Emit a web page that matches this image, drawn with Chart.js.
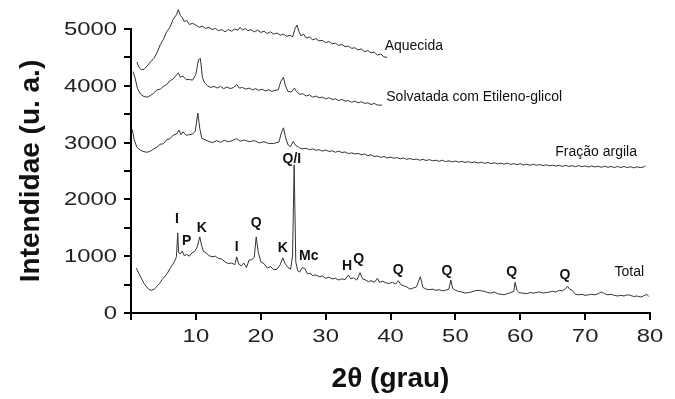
<!DOCTYPE html>
<html>
<head>
<meta charset="utf-8">
<script src="https://cdn.jsdelivr.net/npm/chart.js@4/dist/chart.umd.min.js"></script>
<style>
  html, body { margin: 0; padding: 0; background: #fff; }
  #wrap { width: 675px; height: 399px; position: relative; }
</style>
</head>
<body>
<div id="wrap"><canvas id="c" width="675" height="399"></canvas></div>
<script>
// ---- Data (2θ in degrees, intensity in arbitrary units) ----
const totalX = [0.8,1.2,1.6,2.0,2.4,2.8,3.2,3.6,4.0,4.4,4.8,5.2,5.6,6.0,6.4,6.8,7.0,7.2,7.35,7.6,7.9,8.2,8.6,9.0,9.4,9.8,10.2,10.6,10.9,11.2,11.6,12.0,12.5,13.0,13.5,14.0,14.5,15.0,15.5,16.0,16.3,16.6,17.0,17.4,17.8,18.2,18.6,19.0,19.3,19.6,20.0,20.5,21.0,21.5,22.0,22.5,23.0,23.4,23.8,24.2,24.6,24.9,25.15,25.4,25.7,26.0,26.4,26.8,27.2,27.6,28.0,28.5,29.0,29.5,30.0,30.5,31.0,31.5,32.0,32.5,33.0,33.5,33.9,34.3,34.8,35.3,35.7,36.2,36.6,37.0,37.5,38.0,38.3,38.8,39.3,39.8,40.3,40.8,41.2,41.6,42.0,42.5,43.0,43.5,44.0,44.6,45.0,45.5,46.0,46.5,47.0,47.5,48.0,48.5,49.0,49.3,49.6,50.0,50.5,51.0,51.5,52.0,52.5,53.0,53.5,54.0,54.5,55.0,55.5,56.0,56.5,57.0,57.5,58.0,58.5,59.0,59.2,59.5,59.8,60.3,61.0,61.5,62.0,62.5,63.0,63.5,64.0,64.5,65.0,65.5,66.0,66.5,67.0,67.3,67.6,68.0,68.5,69.0,69.5,70.0,70.5,71.0,71.5,72.0,72.5,73.0,73.5,74.0,74.5,75.0,75.5,76.0,76.5,77.0,77.5,78.0,78.5,79.0,79.5,79.8];
const totalY = [790,700,610,520,460,410,400,420,470,520,590,640,700,780,850,930,990,1410,1060,1040,1090,1010,1030,1000,1060,1080,1160,1340,1180,1080,1060,1010,990,1000,960,950,900,870,880,850,990,860,830,880,800,930,940,980,1340,1080,900,870,790,820,760,770,850,970,860,800,770,1000,2610,900,740,720,800,780,690,700,660,670,640,650,610,630,600,610,580,600,590,670,600,620,580,710,600,580,550,570,540,610,540,560,530,520,540,510,570,500,480,460,420,440,460,640,450,420,410,420,400,410,390,400,420,580,430,400,380,370,350,360,370,390,400,390,380,360,350,370,340,330,320,340,360,380,540,400,360,350,340,360,350,360,370,350,360,370,380,370,400,390,430,470,420,400,330,320,330,310,320,330,320,340,370,340,320,330,310,300,310,300,320,310,290,300,280,300,330,290];

// [2θ, intensity] pairs
const fracaoArgila = [[0.2,3230],[0.5,3050],[0.9,2920],[1.4,2870],[2.0,2840],[2.5,2830],[3.0,2850],[3.5,2890],[4.0,2920],[4.5,2970],[5.0,2980],[5.5,3050],[6.0,3070],[6.5,3130],[7.0,3150],[7.4,3220],[7.7,3140],[8.0,3190],[8.5,3130],[9.0,3140],[9.5,3150],[9.9,3200],[10.3,3520],[10.6,3250],[10.9,3080],[11.4,3050],[12.0,3020],[12.6,3000],[13.2,3035],[13.8,3005],[14.4,3040],[15.0,3015],[15.6,3035],[16.3,3070],[16.8,3025],[17.5,3045],[18.2,3015],[19.0,3035],[19.8,2995],[20.5,3015],[21.2,2985],[22.0,2985],[22.8,3010],[23.2,3180],[23.5,3260],[23.8,3100],[24.2,2960],[24.6,2930],[25.0,3020],[25.3,2960],[25.8,2920],[26.0,2905],[26.5,2890],[27.0,2900],[27.5,2875],[28.0,2890],[28.5,2865],[29.0,2875],[29.5,2850],[30.0,2870],[30.5,2845],[31.0,2855],[31.5,2830],[32.0,2850],[32.5,2825],[33.0,2835],[33.5,2805],[34.0,2820],[34.5,2800],[35.0,2810],[35.5,2785],[36.0,2800],[36.5,2770],[37.0,2785],[37.5,2755],[38.0,2765],[38.5,2740],[39.0,2755],[39.5,2730],[40.0,2745],[40.5,2725],[41.0,2735],[41.5,2715],[42.0,2730],[42.5,2705],[43.0,2720],[43.5,2700],[44.0,2710],[44.5,2690],[45.0,2705],[45.5,2685],[46.0,2700],[46.5,2680],[47.0,2690],[47.5,2670],[48.0,2690],[48.5,2665],[49.0,2680],[49.5,2660],[50.0,2675],[50.5,2655],[51.0,2670],[51.5,2650],[52.0,2665],[52.5,2645],[53.0,2660],[53.5,2640],[54.0,2655],[54.5,2635],[55.0,2650],[55.5,2630],[56.0,2645],[56.5,2625],[57.0,2640],[57.5,2620],[58.0,2640],[58.5,2615],[59.0,2630],[59.5,2610],[60.0,2630],[60.5,2605],[61.0,2620],[61.5,2600],[62.0,2620],[62.5,2600],[63.0,2615],[63.5,2595],[64.0,2610],[64.5,2590],[65.0,2605],[65.5,2585],[66.0,2600],[66.5,2580],[67.0,2600],[67.5,2580],[68.0,2595],[68.5,2575],[69.0,2595],[69.5,2575],[70.0,2590],[70.5,2570],[71.0,2590],[71.5,2570],[72.0,2585],[72.5,2565],[73.0,2585],[73.5,2565],[74.0,2580],[74.5,2560],[75.0,2580],[75.5,2560],[76.0,2580],[76.5,2560],[77.0,2575],[77.5,2555],[78.0,2575],[78.5,2560],[79.0,2570],[79.3,2590]];

const solvatada = [[0.3,4250],[0.6,4150],[1.0,3950],[1.5,3850],[2.0,3810],[2.5,3800],[3.0,3830],[3.5,3870],[4.0,3930],[4.5,3940],[5.0,3990],[5.5,4020],[6.0,4090],[6.5,4120],[7.0,4190],[7.3,4230],[7.6,4150],[8.0,4170],[8.5,4110],[9.0,4110],[9.5,4100],[10.0,4200],[10.4,4460],[10.7,4480],[11.0,4150],[11.3,4060],[11.8,4000],[12.3,3970],[12.8,3990],[13.3,3960],[13.8,3990],[14.3,3950],[14.8,3980],[15.3,3950],[15.8,3970],[16.3,4020],[16.7,3960],[17.2,3970],[17.7,3940],[18.2,3960],[18.7,3930],[19.2,3950],[19.7,3920],[20.2,3940],[20.7,3910],[21.2,3930],[21.7,3900],[22.2,3920],[22.7,3930],[23.1,4080],[23.5,4150],[23.8,4000],[24.2,3900],[24.7,3890],[25.2,3960],[25.5,3900],[26.0,3850],[26.5,3860],[27.0,3820],[27.5,3840],[28.0,3800],[28.5,3820],[29.0,3790],[29.5,3800],[30.0,3770],[30.5,3790],[31.0,3760],[31.5,3770],[32.0,3740],[32.5,3760],[33.0,3730],[33.5,3740],[34.0,3710],[34.5,3730],[35.0,3700],[35.5,3720],[36.0,3690],[36.5,3700],[37.0,3670],[37.5,3690],[38.0,3660],[38.7,3660]];

const aquecida = [[0.9,4420],[1.2,4330],[1.6,4280],[2.0,4290],[2.5,4350],[3.0,4420],[3.5,4480],[4.0,4580],[4.5,4720],[5.0,4820],[5.5,4950],[6.0,5030],[6.5,5170],[7.0,5250],[7.3,5340],[7.6,5240],[7.9,5200],[8.2,5130],[8.6,5150],[9.0,5080],[9.5,5100],[10.0,5070],[10.5,5030],[11.0,5050],[11.5,5010],[12.0,5030],[12.5,4990],[13.0,5010],[13.5,4970],[14.0,4990],[14.5,4950],[15.0,4990],[15.5,4960],[16.0,5000],[16.5,4980],[16.8,5030],[17.2,4980],[17.6,5010],[18.0,4970],[18.5,4990],[19.0,4950],[19.5,4980],[20.0,4940],[20.5,4960],[21.0,4920],[21.5,4950],[22.0,4910],[22.5,4930],[23.0,4890],[23.5,4910],[24.0,4870],[24.5,4890],[24.9,4860],[25.3,5010],[25.6,5070],[25.9,4950],[26.2,4880],[26.6,4910],[27.0,4840],[27.5,4860],[28.0,4810],[28.5,4830],[29.0,4790],[29.5,4800],[30.0,4760],[30.5,4780],[31.0,4740],[31.5,4750],[32.0,4710],[32.5,4730],[33.0,4690],[33.5,4700],[34.0,4660],[34.5,4670],[35.0,4630],[35.5,4650],[36.0,4600],[36.5,4620],[37.0,4580],[37.5,4590],[38.0,4540],[38.5,4560],[39.0,4510],[39.5,4500]];

// Annotations (text, 2θ, intensity)
const peakText = ['I','P','K','I','Q','K','Q/I','Mc','H','Q','Q','Q','Q','Q'];
const peakX    = [7.1,8.6,10.9,16.3,19.3,23.4,24.8,27.4,33.3,35.1,41.2,48.7,58.7,66.9];
const peakY    = [1654,1267,1496,1162,1584,1144,2710,1003,827,950,757,745,725,660];
const seriesText = ['Total','Fração argila','Solvatada com Etileno-glicol','Aquecida'];
const seriesLabelX = [76.8,71.7,52.9,43.6];
const seriesLabelY = [722,2834,3802,4700];

const xTicks = [0,10,20,30,40,50,60,70,80];
const yTicks = [0,1000,2000,3000,4000,5000];

const fromXY = (xs, ys) => xs.map((x, i) => ({x: x, y: ys[i]}));
const fromPairs = p => p.map(([x, y]) => ({x, y}));

const FONT = "'Liberation Sans', Arial, sans-serif";
const LINE = '#333';
const TICK_FONT = '18.5px ' + FONT;
const STRETCH = 1.29; // tick numerals in the reference are drawn wide

// Tick labels: positioned from the library's scales, drawn horizontally widened
const tickLabels = {
  id: 'tickLabels',
  afterDraw(chart) {
    const {ctx, scales: {x, y}} = chart;
    ctx.save();
    ctx.fillStyle = '#222';
    ctx.font = TICK_FONT;
    ctx.textBaseline = 'middle';
    y.ticks.forEach(t => {
      if (!yTicks.includes(t.value)) return;
      ctx.save();
      ctx.translate(y.right - 14, y.getPixelForValue(t.value) + 1);
      ctx.scale(STRETCH, 1);
      ctx.textAlign = 'right';
      ctx.fillText(String(t.value), 0, 0);
      ctx.restore();
    });
    x.ticks.forEach(t => {
      if (t.value === 0) return;
      ctx.save();
      ctx.translate(x.getPixelForValue(t.value), x.top + 24);
      ctx.scale(STRETCH, 1);
      ctx.textAlign = 'center';
      ctx.fillText(String(t.value), 0, 0);
      ctx.restore();
    });
    ctx.restore();
  }
};

const annot = {
  id: 'annot',
  afterDatasetsDraw(chart) {
    const {ctx, scales: {x, y}} = chart;
    ctx.save();
    ctx.fillStyle = '#111';
    ctx.textAlign = 'center';
    ctx.textBaseline = 'middle';
    ctx.font = 'bold 14px ' + FONT;
    peakText.forEach((t, i) => ctx.fillText(t, x.getPixelForValue(peakX[i]), y.getPixelForValue(peakY[i])));
    ctx.font = '14px ' + FONT;
    seriesText.forEach((t, i) => ctx.fillText(t, x.getPixelForValue(seriesLabelX[i]), y.getPixelForValue(seriesLabelY[i])));
    ctx.restore();
  }
};

const ds = (label, data) => ({
  label, data, borderColor: LINE, borderWidth: 1,
  pointRadius: 0, tension: 0, clip: false, fill: false
});

new Chart(document.getElementById('c'), {
  type: 'line',
  data: {
    datasets: [
      ds('Total', fromXY(totalX, totalY)),
      ds('Fração argila', fromPairs(fracaoArgila)),
      ds('Solvatada com Etileno-glicol', fromPairs(solvatada)),
      ds('Aquecida', fromPairs(aquecida))
    ]
  },
  options: {
    responsive: false,
    animation: false,
    events: [],
    layout: { padding: { left: 0, top: 29, right: 25, bottom: 0 } },
    plugins: { legend: { display: false }, tooltip: { enabled: false } },
    scales: {
      x: {
        type: 'linear', min: 0, max: 80,
        afterBuildTicks: s => { s.ticks = xTicks.map(v => ({value: v})); },
        afterFit: s => { s.height = 86; },
        grid: { drawOnChartArea: false, drawTicks: true, tickLength: 7, color: '#000', lineWidth: 2 },
        border: { display: true, color: '#000', width: 2 },
        ticks: { display: false, autoSkip: false },
        title: { display: true, text: '2θ (grau)', color: '#111', font: { family: FONT, size: 28, weight: 'bold' }, padding: { top: 0, bottom: 3 } }
      },
      y: {
        min: 0, max: 5000,
        afterBuildTicks: s => { const t = []; for (let v = 0; v <= 5000; v += 500) t.push({value: v}); s.ticks = t; },
        afterFit: s => { s.width = 131; },
        grid: { drawOnChartArea: false, drawTicks: true, tickLength: 7, color: '#000', lineWidth: 2 },
        border: { display: true, color: '#000', width: 2 },
        ticks: { display: false, autoSkip: false },
        title: { display: true, text: 'Intendidae (u. a.)', color: '#111', font: { family: FONT, size: 28, weight: 'bold' }, padding: { top: 14, bottom: 0 } }
      }
    }
  },
  plugins: [annot, tickLabels]
});
</script>
</body>
</html>
